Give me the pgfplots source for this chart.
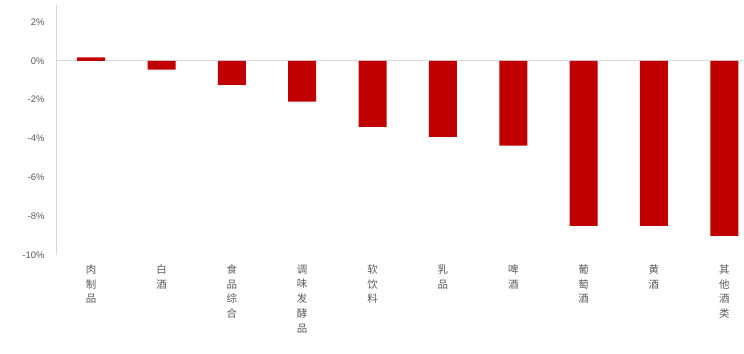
\documentclass[border=0pt]{standalone}
\usepackage{pgfplots}
\pgfplotsset{compat=1.18}
\usepackage{fontspec}
\setmainfont{Liberation Sans}
\newfontfamily\cjk{Noto Sans CJK SC}
\definecolor{barred}{HTML}{C00000}
\definecolor{txt}{HTML}{595959}
\definecolor{axl}{HTML}{D9D9D9}
\begin{document}
\begin{tikzpicture}[x=1bp,y=1bp]
\useasboundingbox (0,0) rectangle (744,353);
\begin{axis}[
  at={(56bp,98bp)}, anchor=south west,
  width=688bp, height=233bp, scale only axis,
  xmin=-0.5, xmax=9.28, ymin=-10, ymax=2,
  axis x line*=bottom, axis y line*=left,
  x axis line style={draw=none},
  y axis line style={draw=axl, line width=0.8pt, shorten >=-17bp},
  major tick length=0pt,
  ytick={-10,-8,-6,-4,-2,0,2},
  yticklabels={-10\%,-8\%,-6\%,-4\%,-2\%,0\%,2\%},
  yticklabel style={font=\fontsize{9.5}{10}\selectfont, text=txt, anchor=east, xshift=-8bp},
  xtick={0,...,9},
  xticklabels={{肉\\制\\品},{白\\酒},{食\\品\\综\\合},{调\\味\\发\\酵\\品},{软\\饮\\料},{乳\\品},{啤\\酒},{葡\\萄\\酒},{黄\\酒},{其\\他\\酒\\类}},
  xticklabel style={align=center, font=\cjk\fontsize{10.5}{14.8}\selectfont, text=txt, anchor=north, yshift=-6bp},
  clip=false,
]
\draw[axl, line width=0.8pt] (axis cs:-0.5,0) -- (axis cs:9.28,0);
\addplot[ybar, fill=barred, draw=none, bar width=28bp] coordinates {
  (0,0.18) (1,-0.45) (2,-1.24) (3,-2.1) (4,-3.4) (5,-3.92) (6,-4.37) (7,-8.5) (8,-8.5) (9,-9.02)
};
\end{axis}
\end{tikzpicture}
\end{document}
